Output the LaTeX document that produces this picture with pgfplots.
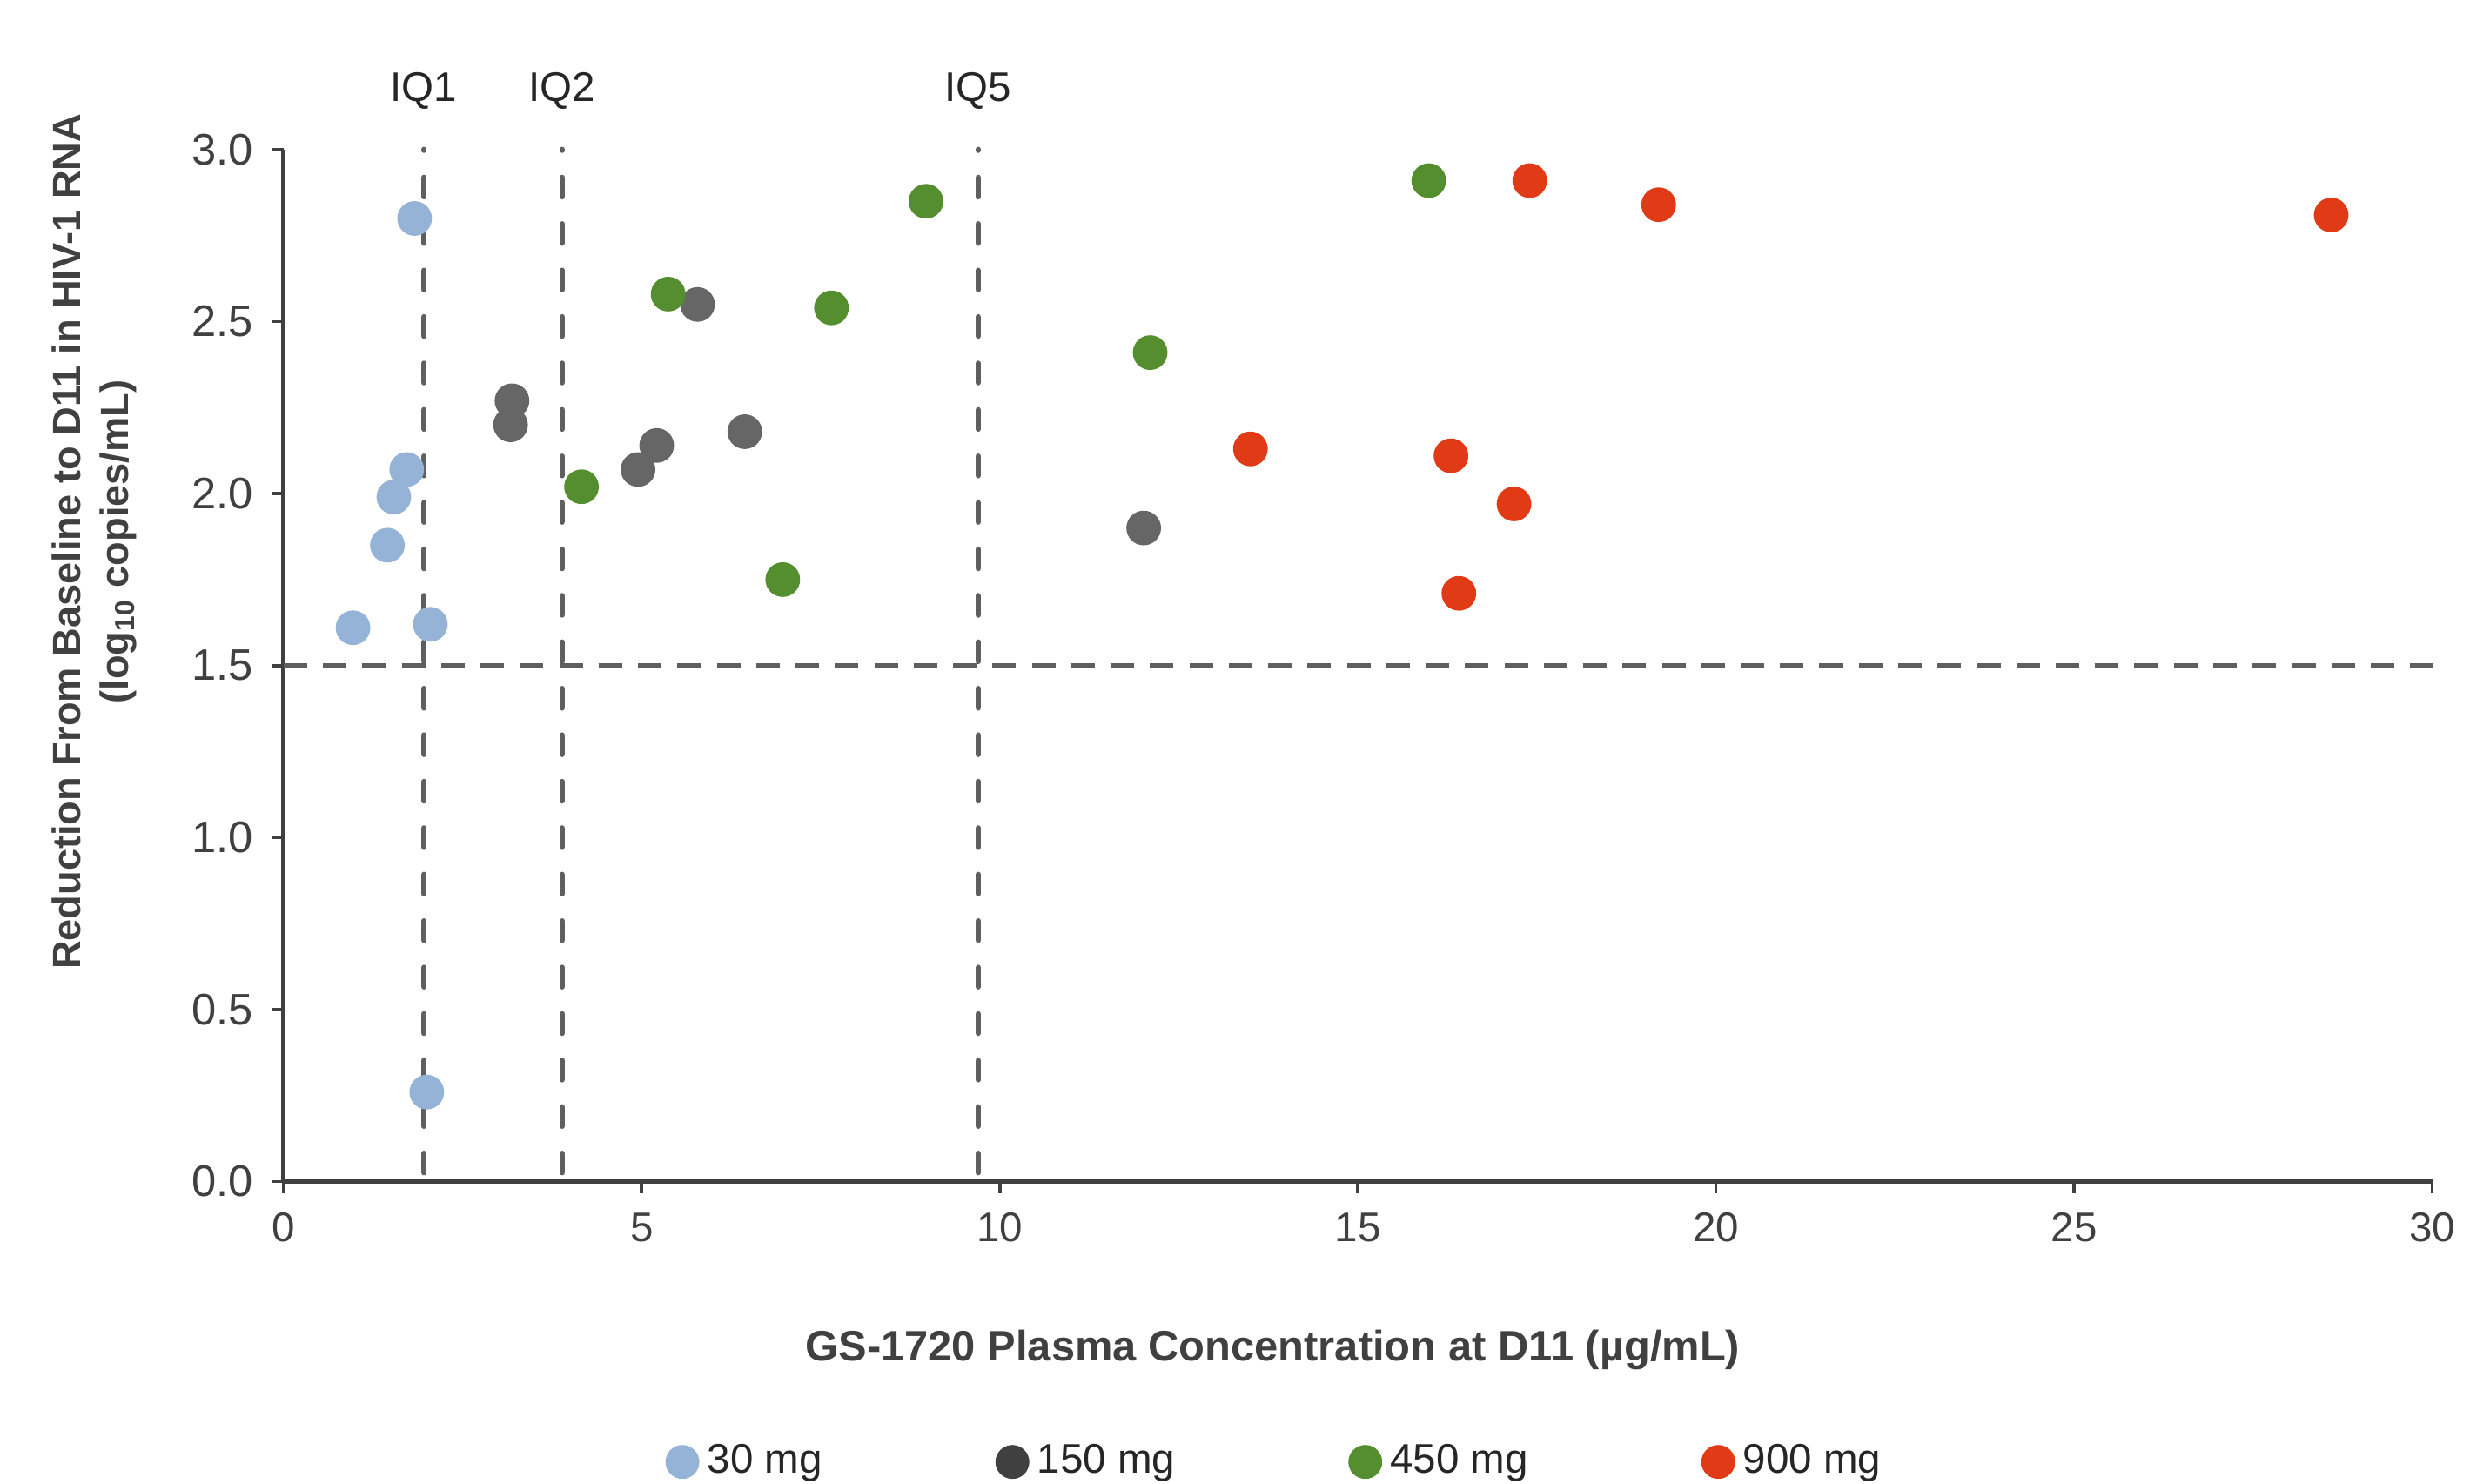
\documentclass[border=0pt]{standalone}
\usepackage{fontspec}
\setmainfont{Liberation Sans}
\usepackage{pgfplots}
\pgfplotsset{compat=1.18}
\definecolor{axiscol}{HTML}{404040}
\definecolor{dashcol}{HTML}{5F5F5F}
\definecolor{c30}{HTML}{95B3D7}
\definecolor{c150}{HTML}{666666}
\definecolor{c150leg}{HTML}{404040}
\definecolor{c450}{HTML}{558E2F}
\definecolor{c900}{HTML}{E03A16}
\newcommand{\chartfont}{\fontsize{10.5}{12}\selectfont}
\begin{document}
\begin{tikzpicture}
\useasboundingbox (-72pt,-76.8pt) rectangle (555.2pt,300pt);
\begin{axis}[
  scale only axis, width=545.6pt, height=262pt,
  xmin=0, xmax=30, ymin=0, ymax=3,
  xtick={0,5,...,30}, ytick={0,0.5,...,3},
  axis x line*=bottom, axis y line*=left,
  axis line style={line width=1.2pt, color=axiscol},
  tick align=outside, major tick length=3pt,
  tick style={line width=0.8pt, color=axiscol},
  ticklabel style={font=\chartfont, text=axiscol},
  /pgf/number format/assume math mode=true,
  xticklabel style={yshift=-1.5pt},
  yticklabel style={font=\fontsize{11.2}{12}\selectfont, xshift=-1.2pt,
    /pgf/number format/.cd, fixed, fixed zerofill, precision=1},
  xlabel={GS-1720 Plasma Concentration at D11 (µg/mL)},
  xlabel style={font=\fontsize{10.8}{12}\selectfont\bfseries, text=axiscol, at={(axis description cs:0.4604,-0.1634)}, anchor=center},
  ylabel={Reduction From Baseline to D11 in HIV-1 RNA\\(log\textsubscript{10} copies/mL)},
  ylabel style={font=\fontsize{10}{12}\selectfont\bfseries, text=axiscol, align=center, at={(axis description cs:-0.088,0.62)}, anchor=center},
  clip=false,
  legend columns=-1,
  legend style={draw=none, fill=none, inner sep=0pt, font=\chartfont, text=black!85,
    at={(axis description cs:0.1774,-0.2718)}, anchor=west,
    /tikz/every odd column/.append style={column sep=0pt},
    /tikz/every even column/.append style={column sep=42pt}},
  legend image code/.code={\fill[#1] (4.1pt,0pt) circle (4.1pt);},
  every axis plot/.append style={only marks, mark=*, mark size=4.2pt},
]
% reference lines
\addplot[forget plot, no marks, sharp plot, dashcol, line width=1.5pt, line cap=round, dash pattern=on 4.8pt off 7pt, dash phase=4.7pt] coordinates {(1.96,3) (1.96,0)};
\addplot[forget plot, no marks, sharp plot, dashcol, line width=1.5pt, line cap=round, dash pattern=on 4.8pt off 7pt, dash phase=4.7pt] coordinates {(3.89,3) (3.89,0)};
\addplot[forget plot, no marks, sharp plot, dashcol, line width=1.5pt, line cap=round, dash pattern=on 4.8pt off 7pt, dash phase=4.7pt] coordinates {(9.70,3) (9.70,0)};
\addplot[forget plot, no marks, sharp plot, dashcol, line width=1.2pt, dash pattern=on 6pt off 4pt] coordinates {(0,1.5) (30,1.5)};
\node[font=\chartfont, text=black!85] at (axis cs:1.96,3) [yshift=15pt] {IQ1};
\node[font=\chartfont, text=black!85] at (axis cs:3.89,3) [yshift=15pt] {IQ2};
\node[font=\chartfont, text=black!85] at (axis cs:9.70,3) [yshift=15pt] {IQ5};
% 30 mg
\addplot[forget plot, color=c30] coordinates {
  (1.83,2.80) (1.72,2.07) (1.54,1.99) (1.45,1.85) (0.97,1.61) (2.05,1.62) (2.00,0.26)};
% 150 mg
\addplot[forget plot, color=c150] coordinates {
  (3.19,2.27) (3.17,2.20) (5.78,2.55) (4.95,2.07) (5.21,2.14) (6.44,2.18) (12.01,1.90)};
% 450 mg
\addplot[forget plot, color=c450] coordinates {
  (8.97,2.85) (5.37,2.58) (7.65,2.54) (4.16,2.02) (6.97,1.75) (12.10,2.41) (15.99,2.91)};
% 900 mg
\addplot[forget plot, color=c900] coordinates {
  (17.40,2.91) (19.20,2.84) (28.59,2.81) (13.50,2.13) (16.30,2.11) (17.18,1.97) (16.41,1.71)};
\addlegendimage{color=c30}
\addlegendentry{30 mg}
\addlegendimage{color=c150leg}
\addlegendentry{150 mg}
\addlegendimage{color=c450}
\addlegendentry{450 mg}
\addlegendimage{color=c900}
\addlegendentry{900 mg}
\end{axis}
\end{tikzpicture}
\end{document}
